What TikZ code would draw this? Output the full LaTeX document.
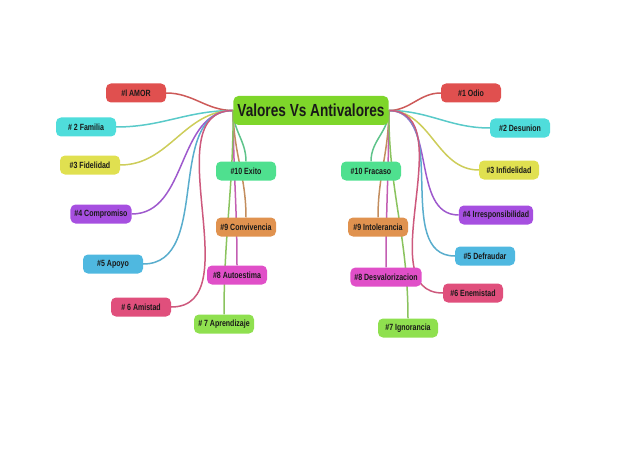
\documentclass[tikz,border=0pt]{standalone}
\usepackage{fontspec}
\setmainfont{Liberation Sans}[FakeStretch=0.78]
\usetikzlibrary{backgrounds}
\definecolor{cverde}{HTML}{7ED62A}
\definecolor{crojo}{HTML}{E0504F}
\definecolor{ccian}{HTML}{4FDDDB}
\definecolor{camar}{HTML}{E0E050}
\definecolor{cmora}{HTML}{A64FE0}
\definecolor{cazul}{HTML}{4FB8E0}
\definecolor{crosa}{HTML}{E04F7C}
\definecolor{cmenta}{HTML}{4FE08F}
\definecolor{cnaranja}{HTML}{E0924F}
\definecolor{cmagenta}{HTML}{E04FC8}
\definecolor{clima}{HTML}{8FE04F}
\begin{document}
\begin{tikzpicture}[x=1pt,y=-1pt,
  rama/.style={rounded corners=5pt, minimum height=19pt, minimum width=60pt,
    inner xsep=4pt, font=\fontsize{9}{10}\selectfont\bfseries, text=black!90},
  linea/.style={line width=1.5pt}]
  \useasboundingbox (0,0) rectangle (638,452);

  % Tema central
  \node[rama, fill=cverde, minimum width=152pt, minimum height=29pt,
    font=\fontsize{17.5}{20}\selectfont\bfseries] (central) at (311,110.5) {Valores Vs Antivalores};

  % Valores
  \node[rama, fill=crojo] (amor) at (136,93) {\#l AMOR};
  \node[rama, fill=ccian] (familia) at (86,127) {\# 2 Familia};
  \node[rama, fill=camar] (fidelidad) at (90,165) {\#3 Fidelidad};
  \node[rama, fill=cmora] (compromiso) at (101,214) {\#4 Compromiso};
  \node[rama, fill=cazul] (apoyo) at (113,264) {\#5 Apoyo};
  \node[rama, fill=crosa] (amistad) at (141,307) {\# 6 Amistad};
  \node[rama, fill=cmenta] (exito) at (246,171) {\#10 Exito};
  \node[rama, fill=cnaranja] (convivencia) at (246,227) {\#9 Convivencia};
  \node[rama, fill=cmagenta] (autoestima) at (237,275) {\#8 Autoestima};
  \node[rama, fill=clima] (aprendizaje) at (224,324) {\# 7 Aprendizaje};

  % Antivalores
  \node[rama, fill=crojo] (odio) at (471,93) {\#1 Odio};
  \node[rama, fill=ccian] (desunion) at (520,128) {\#2 Desunion};
  \node[rama, fill=camar] (infidelidad) at (509,170) {\#3 Infidelidad};
  \node[rama, fill=cmora] (irresp) at (496,215) {\#4 Irresponsibilidad};
  \node[rama, fill=cazul] (defraudar) at (485,256) {\#5 Defraudar};
  \node[rama, fill=crosa] (enemistad) at (473,293) {\#6 Enemistad};
  \node[rama, fill=cmenta] (fracaso) at (371,171) {\#10 Fracaso};
  \node[rama, fill=cnaranja] (intolerancia) at (378,227) {\#9 Intolerancia};
  \node[rama, fill=cmagenta] (desval) at (386,277) {\#8 Desvalorizacion};
  \node[rama, fill=clima] (ignorancia) at (408,328) {\#7 Ignorancia};

  \begin{pgfonlayer}{background}
    % ramas izquierda
    \draw[linea, crojo!80!gray] (central.west) to[out=180,in=0] (amor.east);
    \draw[linea, ccian!80!gray] (central.west) to[out=180,in=0] (familia.east);
    \draw[linea, camar!80!gray] (central.west) to[out=180,in=0] (fidelidad.east);
    \draw[linea, cmora!80!gray] (central.west) to[out=180,in=0] (compromiso.east);
    \draw[linea, cazul!80!gray] (central.west) to[out=180,in=0] (apoyo.east);
    \draw[linea, crosa!80!gray] (central.west) to[out=180,in=0] (amistad.east);
    \draw[linea, cmenta!70!gray] (central.west) to[out=-90,in=90] (exito.north);
    \draw[linea, cnaranja!70!gray] (central.west) to[out=-90,in=90] (convivencia.north);
    \draw[linea, cmagenta!70!gray] (central.west) to[out=-90,in=90] (autoestima.north);
    \draw[linea, clima!70!gray] (central.west) to[out=-90,in=90] (aprendizaje.north);
    % ramas derecha
    \draw[linea, crojo!80!gray] (central.east) to[out=0,in=180] (odio.west);
    \draw[linea, ccian!80!gray] (central.east) to[out=0,in=180] (desunion.west);
    \draw[linea, camar!80!gray] (central.east) to[out=0,in=180] (infidelidad.west);
    \draw[linea, cmora!80!gray] (central.east) to[out=0,in=180] (irresp.west);
    \draw[linea, cazul!80!gray] (central.east) to[out=0,in=180] (defraudar.west);
    \draw[linea, crosa!80!gray] (central.east) to[out=0,in=180] (enemistad.west);
    \draw[linea, cmenta!70!gray] (central.east) to[out=-90,in=90] (fracaso.north);
    \draw[linea, cnaranja!70!gray] (central.east) to[out=-90,in=90] (intolerancia.north);
    \draw[linea, cmagenta!70!gray] (central.east) to[out=-90,in=90] (desval.north);
    \draw[linea, clima!70!gray] (central.east) to[out=-90,in=90] (ignorancia.north);
  \end{pgfonlayer}
\end{tikzpicture}
\end{document}
